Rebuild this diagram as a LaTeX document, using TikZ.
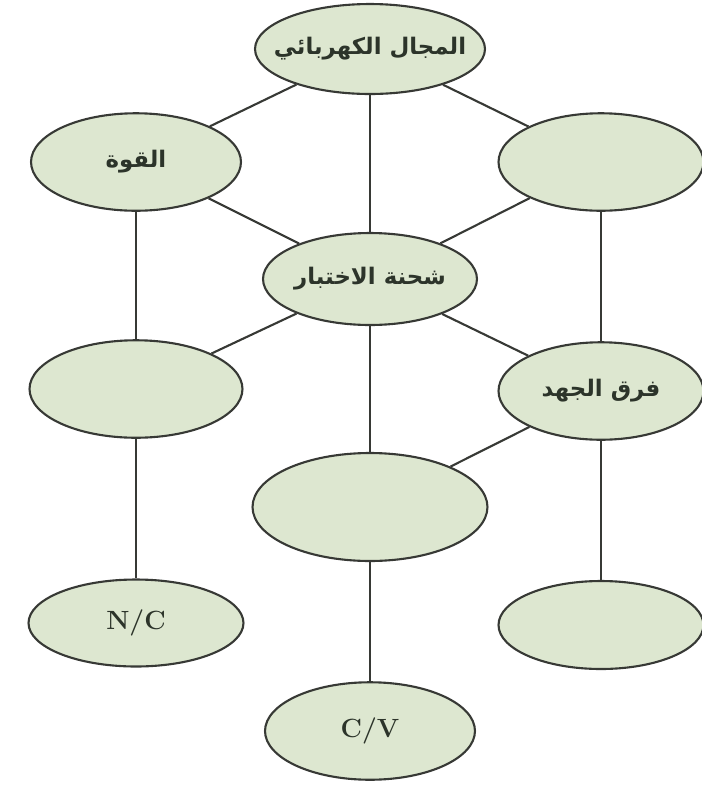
\documentclass[tikz,border=0pt]{standalone}
\usepackage{fontspec}
\usepackage{xcolor}
\usepackage{tikz}
\usetikzlibrary{shapes.geometric}
\newfontfamily\arabicfont[Script=Arabic]{DejaVu Sans}
\TeXXeTstate=1
\definecolor{ovalfill}{RGB}{221,231,208}
\definecolor{ovalline}{RGB}{55,57,53}
\definecolor{ovaltext}{RGB}{44,52,42}
\newcommand{\ar}[1]{\makebox[0pt]{\arabicfont\bfseries\beginR #1\endR}}

\begin{document}
\begin{tikzpicture}[
  x=0.02cm, y=-0.02cm,
  oval/.style={draw=ovalline, line width=1.2pt, ellipse, fill=ovalfill, inner sep=0pt, text=ovaltext, minimum width=4.2cm, minimum height=1.95cm},
  artxt/.style={oval, font=\fontsize{13}{15}\selectfont},
  untxt/.style={oval, font=\fontsize{15}{17}\selectfont\bfseries},
  lnk/.style={draw=ovalline, line width=1.2pt}
]
\useasboundingbox (0,0) rectangle (702,789);
\node[artxt, minimum width=4.6cm, minimum height=1.8cm] (field) at (370,49) {\ar{المجال الكهربائي}};
\node[artxt] (force) at (136,162) {\ar{القوة}};
\node[oval, minimum width=4.1cm] (blankA) at (601,162) {};
\node[artxt, minimum width=4.28cm, minimum height=1.84cm] (charge) at (370,279) {\ar{شحنة الاختبار}};
\node[oval, minimum width=4.26cm] (blankB) at (136,389) {};
\node[artxt, minimum width=4.1cm] (potdiff) at (601,391) {\ar{فرق الجهد}};
\node[oval, minimum width=4.7cm, minimum height=2.16cm] (blankC) at (370,507) {};
\node[untxt, minimum width=4.3cm, minimum height=1.74cm] (nc) at (136,623) {N/C};
\node[oval, minimum width=4.1cm, minimum height=1.76cm] (blankD) at (601,625) {};
\node[untxt, minimum width=4.2cm] (cv) at (370,731) {C/V};
\draw[lnk] (field) -- (force);
\draw[lnk] (field) -- (blankA);
\draw[lnk] (field) -- (charge);
\draw[lnk] (force) -- (charge);
\draw[lnk] (blankA) -- (charge);
\draw[lnk] (force) -- (blankB);
\draw[lnk] (blankA) -- (potdiff);
\draw[lnk] (charge) -- (blankB);
\draw[lnk] (charge) -- (potdiff);
\draw[lnk] (charge) -- (blankC);
\draw[lnk] (potdiff) -- (blankC);
\draw[lnk] (blankB) -- (nc);
\draw[lnk] (potdiff) -- (blankD);
\draw[lnk] (blankC) -- (cv);
\end{tikzpicture}
\end{document}
